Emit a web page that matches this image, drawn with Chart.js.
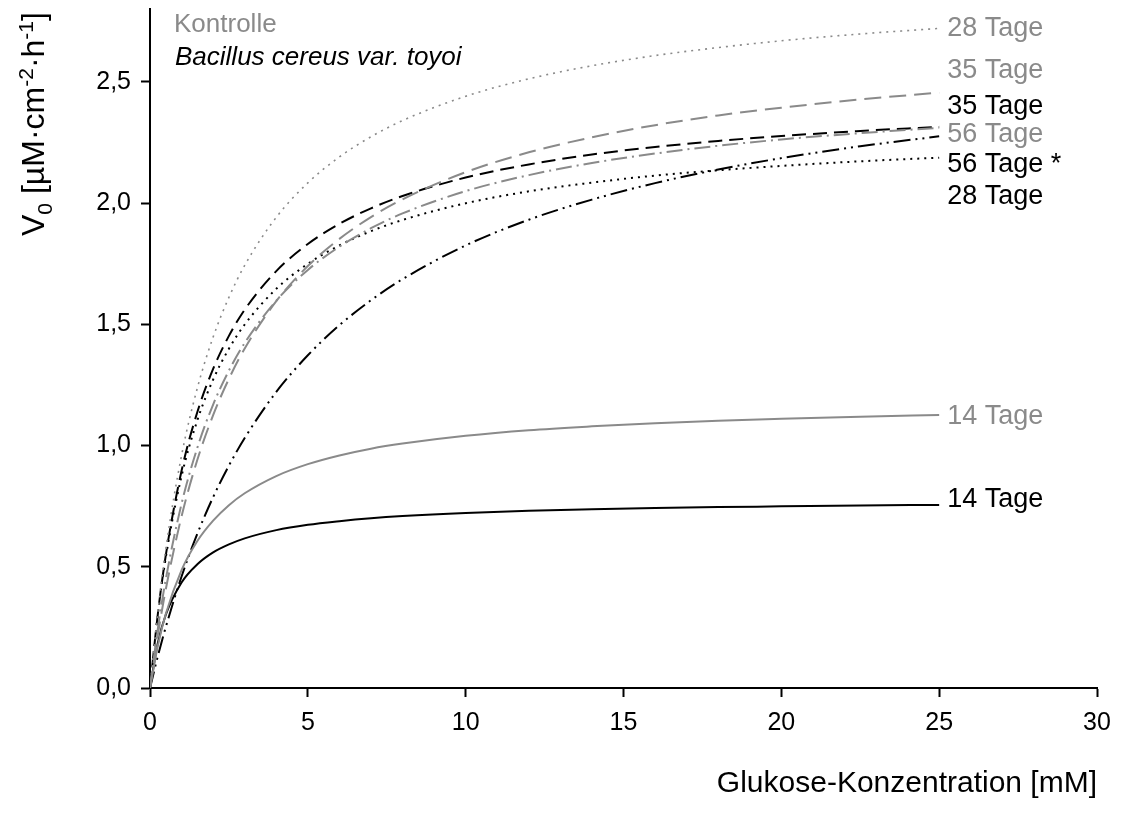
<!DOCTYPE html>
<html>
<head>
<meta charset="utf-8">
<script src="https://cdn.jsdelivr.net/npm/chart.js@4.4.0/dist/chart.umd.min.js"></script>
<style>
  html, body { margin: 0; padding: 0; background: #fff; }
  #wrap { width: 1124px; height: 828px; }
</style>
</head>
<body>
<div id="wrap"><canvas id="kinetik" width="1124" height="828"></canvas></div>
<script>
// Glukose-Konzentration [mM]
const glukose = [0, 0.25, 0.5, 1, 1.5, 2, 2.5, 3, 4, 5, 6, 7, 8, 10, 12, 14, 16, 18, 20, 22.5, 25];

// V0 der Kontrolle (grau)
const kontrolle14 = [0, 0.175, 0.305, 0.486, 0.606, 0.690, 0.754, 0.803, 0.874, 0.923, 0.959, 0.987, 1.008, 1.040, 1.063, 1.079, 1.092, 1.102, 1.110, 1.119, 1.126];
const kontrolle28 = [0, 0.317, 0.573, 0.959, 1.237, 1.447, 1.611, 1.743, 1.941, 2.083, 2.190, 2.273, 2.340, 2.440, 2.512, 2.566, 2.608, 2.641, 2.669, 2.697, 2.720];
const kontrolle35 = [0, 0.220, 0.407, 0.708, 0.941, 1.125, 1.275, 1.400, 1.595, 1.740, 1.852, 1.942, 2.015, 2.127, 2.209, 2.271, 2.321, 2.361, 2.393, 2.427, 2.455];
const kontrolle56 = [0, 0.246, 0.448, 0.760, 0.991, 1.169, 1.309, 1.423, 1.597, 1.724, 1.820, 1.896, 1.957, 2.049, 2.115, 2.165, 2.204, 2.236, 2.262, 2.288, 2.310];

// V0 mit Bacillus cereus var. toyoi (schwarz)
const bacillus14 = [0, 0.187, 0.302, 0.435, 0.510, 0.559, 0.592, 0.617, 0.651, 0.673, 0.688, 0.700, 0.709, 0.722, 0.731, 0.737, 0.742, 0.746, 0.749, 0.753, 0.755];
const bacillus28 = [0, 0.132, 0.251, 0.460, 0.636, 0.787, 0.917, 1.031, 1.221, 1.372, 1.496, 1.599, 1.686, 1.825, 1.931, 2.014, 2.082, 2.138, 2.185, 2.234, 2.275];
const bacillus35 = [0, 0.307, 0.547, 0.896, 1.138, 1.316, 1.452, 1.560, 1.719, 1.831, 1.914, 1.978, 2.029, 2.105, 2.159, 2.200, 2.231, 2.256, 2.276, 2.297, 2.314];
const bacillus56 = [0, 0.304, 0.538, 0.874, 1.104, 1.272, 1.399, 1.499, 1.646, 1.749, 1.825, 1.884, 1.930, 1.999, 2.048, 2.084, 2.113, 2.135, 2.153, 2.172, 2.187];

// Beschriftung am Kurvenende
const endText = ['28 Tage', '35 Tage', '35 Tage', '56 Tage', '56 Tage *', '28 Tage', '14 Tage', '14 Tage'];
const endTextY = [2.719, 2.545, 2.397, 2.281, 2.158, 2.026, 1.118, 0.776];

const xTicks = [0, 5, 10, 15, 20, 25, 30];
const yTicks = [0, 0.5, 1.0, 1.5, 2.0, 2.5];

const GRAU = '#8a8a8a';
const SCHWARZ = '#000000';
const endTextFarbe = [GRAU, GRAU, SCHWARZ, GRAU, SCHWARZ, SCHWARZ, GRAU, SCHWARZ];
const SCHRIFT = '"Liberation Sans", Arial, Helvetica, sans-serif';

function punkte(werte) {
    return glukose.map((g, i) => ({ x: g, y: werte[i] }));
}

function kurve(name, werte, farbe, dash, breite) {
    return {
        label: name,
        data: punkte(werte),
        borderColor: farbe,
        backgroundColor: farbe,
        borderWidth: breite,
        borderDash: dash,
        pointRadius: 0,
        fill: false,
        cubicInterpolationMode: 'monotone'
    };
}

// y-Achsentitel mit Index und Exponenten
const yTitel = {
    id: 'yTitel',
    afterDraw(chart) {
        const ctx = chart.ctx;
        const teile = [
            ['V', 32, 0], ['0', 21, 8], [' [µM·cm', 32, 0], ['-2', 21, -11],
            ['·h', 32, 0], ['-1', 21, -11], [']', 32, 0]
        ];
        ctx.save();
        ctx.translate(44, 236);
        ctx.rotate(-Math.PI / 2);
        ctx.fillStyle = SCHWARZ;
        ctx.textBaseline = 'alphabetic';
        ctx.textAlign = 'left';
        let pos = 0;
        teile.forEach(([t, gr, dy]) => {
            ctx.font = gr + 'px ' + SCHRIFT;
            ctx.fillText(t, pos, dy);
            pos += ctx.measureText(t).width;
        });
        ctx.restore();
    }
};

// Kurvennamen rechts und Gruppenbezeichnung oben links
const beschriftung = {
    id: 'beschriftung',
    afterDatasetsDraw(chart) {
        const { ctx, scales: { x, y } } = chart;
        ctx.save();
        ctx.textBaseline = 'middle';
        ctx.textAlign = 'left';
        ctx.font = '27px ' + SCHRIFT;
        const x0 = x.getPixelForValue(25) + 8;
        endText.forEach((t, i) => {
            ctx.fillStyle = endTextFarbe[i];
            ctx.fillText(t, x0, y.getPixelForValue(endTextY[i]));
        });
        ctx.font = '26px ' + SCHRIFT;
        ctx.fillStyle = GRAU;
        ctx.fillText('Kontrolle', 174, 25);
        ctx.fillStyle = SCHWARZ;
        ctx.font = 'italic 26px ' + SCHRIFT;
        ctx.fillText('Bacillus cereus var. toyoi', 175, 58);
        ctx.restore();
    }
};

const achse = {
    drawOnChartArea: false,
    drawTicks: true,
    tickLength: 9,
    tickWidth: 2,
    tickColor: SCHWARZ
};

const config = {
    type: 'line',
    data: {
        datasets: [
            kurve('Kontrolle 14 Tage', kontrolle14, GRAU, [], 2),
            kurve('Kontrolle 28 Tage', kontrolle28, GRAU, [2, 5], 1.6),
            kurve('Kontrolle 35 Tage', kontrolle35, GRAU, [17, 8], 2),
            kurve('Kontrolle 56 Tage', kontrolle56, GRAU, [16, 5, 2, 5], 2),
            kurve('Bacillus 14 Tage', bacillus14, SCHWARZ, [], 2),
            kurve('Bacillus 28 Tage', bacillus28, SCHWARZ, [17, 5, 2, 5, 2, 5], 2),
            kurve('Bacillus 35 Tage', bacillus35, SCHWARZ, [14, 7], 2),
            kurve('Bacillus 56 Tage', bacillus56, SCHWARZ, [2, 5], 2)
        ]
    },
    options: {
        responsive: false,
        animation: false,
        devicePixelRatio: 1,
        layout: { padding: { top: 9, right: 27, left: 0, bottom: 0 } },
        plugins: {
            legend: { display: false },
            tooltip: { enabled: false }
        },
        scales: {
            x: {
                type: 'linear',
                min: 0,
                max: 30,
                afterBuildTicks: s => { s.ticks = xTicks.map(v => ({ value: v })); },
                ticks: {
                    color: SCHWARZ,
                    font: { size: 25, family: SCHRIFT },
                    padding: 11,
                    maxRotation: 0,
                    callback: v => String(v)
                },
                grid: achse,
                border: { color: SCHWARZ, width: 2 },
                title: {
                    display: true,
                    text: 'Glukose-Konzentration [mM]',
                    align: 'end',
                    color: SCHWARZ,
                    font: { size: 30, family: SCHRIFT },
                    padding: { top: 0, bottom: 26 }
                },
                afterFit: s => { s.height = 140; s.paddingLeft = 0; s.paddingRight = 0; }
            },
            y: {
                type: 'linear',
                min: 0,
                max: 2.8,
                afterBuildTicks: s => { s.ticks = yTicks.map(v => ({ value: v })); },
                ticks: {
                    color: SCHWARZ,
                    font: { size: 25, family: SCHRIFT },
                    padding: 10,
                    callback: v => v.toFixed(1).replace('.', ',')
                },
                grid: achse,
                border: { color: SCHWARZ, width: 2 },
                afterFit: s => { s.width = 150; s.paddingTop = 0; s.paddingBottom = 0; }
            }
        }
    },
    plugins: [yTitel, beschriftung]
};

new Chart(document.getElementById('kinetik'), config);
</script>
</body>
</html>
